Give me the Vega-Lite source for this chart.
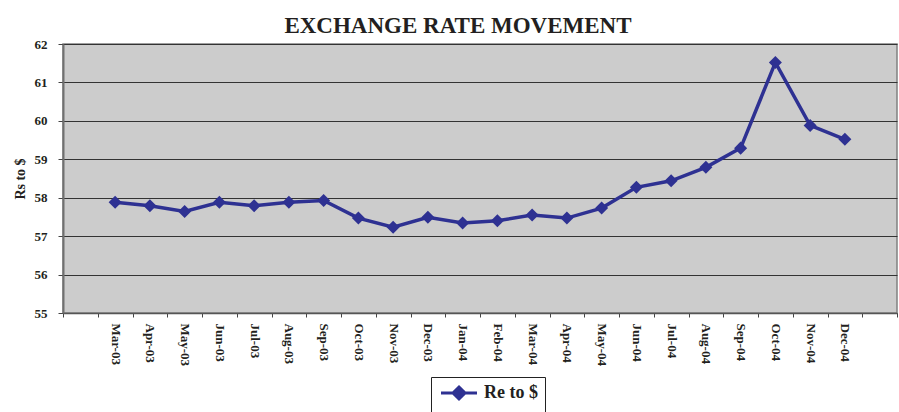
{
  "$schema": "https://vega.github.io/schema/vega-lite/v6.json",
  "width": 834,
  "height": 269,
  "autosize": {"type": "none"},
  "padding": {"left": 63, "top": 44, "right": 2, "bottom": 99},
  "background": "white",
  "title": {
    "text": "EXCHANGE RATE MOVEMENT",
    "font": "Liberation Serif",
    "fontSize": 23,
    "fontWeight": "bold",
    "color": "#231f20",
    "anchor": "middle",
    "frame": "group",
    "dx": -22,
    "offset": 0
  },
  "data": {
    "values": [
      {"month": "Mar-03", "rate": 57.88, "series": "Re to $"},
      {"month": "Apr-03", "rate": 57.79, "series": "Re to $"},
      {"month": "May-03", "rate": 57.64, "series": "Re to $"},
      {"month": "Jun-03", "rate": 57.88, "series": "Re to $"},
      {"month": "Jul-03", "rate": 57.79, "series": "Re to $"},
      {"month": "Aug-03", "rate": 57.88, "series": "Re to $"},
      {"month": "Sep-03", "rate": 57.93, "series": "Re to $"},
      {"month": "Oct-03", "rate": 57.47, "series": "Re to $"},
      {"month": "Nov-03", "rate": 57.23, "series": "Re to $"},
      {"month": "Dec-03", "rate": 57.49, "series": "Re to $"},
      {"month": "Jan-04", "rate": 57.34, "series": "Re to $"},
      {"month": "Feb-04", "rate": 57.40, "series": "Re to $"},
      {"month": "Mar-04", "rate": 57.55, "series": "Re to $"},
      {"month": "Apr-04", "rate": 57.47, "series": "Re to $"},
      {"month": "May-04", "rate": 57.73, "series": "Re to $"},
      {"month": "Jun-04", "rate": 58.27, "series": "Re to $"},
      {"month": "Jul-04", "rate": 58.44, "series": "Re to $"},
      {"month": "Aug-04", "rate": 58.79, "series": "Re to $"},
      {"month": "Sep-04", "rate": 59.29, "series": "Re to $"},
      {"month": "Oct-04", "rate": 61.52, "series": "Re to $"},
      {"month": "Nov-04", "rate": 59.88, "series": "Re to $"},
      {"month": "Dec-04", "rate": 59.52, "series": "Re to $"}
    ]
  },
  "encoding": {
    "x": {
      "field": "month",
      "type": "ordinal",
      "sort": null,
      "scale": {
        "type": "band",
        "domain": [" ", "Mar-03", "Apr-03", "May-03", "Jun-03", "Jul-03", "Aug-03", "Sep-03", "Oct-03", "Nov-03", "Dec-03", "Jan-04", "Feb-04", "Mar-04", "Apr-04", "May-04", "Jun-04", "Jul-04", "Aug-04", "Sep-04", "Oct-04", "Nov-04", "Dec-04", "  "],
        "paddingInner": 0,
        "paddingOuter": 0
      },
      "axis": {
        "title": null,
        "labelAngle": 90,
        "tickBand": "extent",
        "tickSize": 4,
        "tickColor": "#444",
        "domainColor": "#555",
        "domainWidth": 1.5,
        "labelPadding": 6,
        "labelFont": "Liberation Serif",
        "labelFontSize": 13,
        "labelFontWeight": "bold",
        "labelColor": "#231f20",
        "labelOverlap": false,
        "grid": false
      }
    },
    "y": {
      "field": "rate",
      "type": "quantitative",
      "scale": {"domain": [55, 62], "nice": false, "zero": false},
      "axis": {
        "values": [55, 56, 57, 58, 59, 60, 61, 62],
        "grid": true,
        "gridColor": "#333",
        "gridWidth": 1,
        "tickSize": 5,
        "tickColor": "#444",
        "domainColor": "#707070",
        "domainWidth": 2,
        "labelFont": "Liberation Serif",
        "labelFontSize": 13,
        "labelFontWeight": "bold",
        "labelColor": "#231f20",
        "labelPadding": 11,
        "title": "Rs to $",
        "titleFont": "Liberation Serif",
        "titleFontSize": 14,
        "titleFontWeight": "bold",
        "titleColor": "#231f20",
        "titlePadding": 7
      }
    },
    "color": {
      "field": "series",
      "type": "nominal",
      "scale": {"domain": ["Re to $"], "range": ["#2E3192"]},
      "legend": {
        "title": null,
        "orient": "none",
        "legendX": 368,
        "legendY": 333,
        "strokeColor": "#222",
        "fillColor": "white",
        "padding": 7,
        "symbolType": "M-3,0H3M0,-1L1,0L0,1L-1,0Z",
        "symbolSize": 144,
        "symbolOffset": 12,
        "symbolStrokeWidth": 3,
        "symbolFillColor": "#2E3192",
        "symbolStrokeColor": "#2E3192",
        "symbolOpacity": 1,
        "labelFont": "Liberation Serif",
        "labelFontSize": 18,
        "labelFontWeight": "bold",
        "labelColor": "#231f20",
        "labelOffset": 16
      }
    }
  },
  "layer": [
    {"mark": {"type": "line", "strokeWidth": 3.5}},
    {"mark": {"type": "point", "shape": "diamond", "filled": true, "size": 170, "opacity": 1}}
  ],
  "config": {
    "view": {"fill": "#CCCCCC", "stroke": "#808080", "strokeWidth": 1.5}
  }
}
